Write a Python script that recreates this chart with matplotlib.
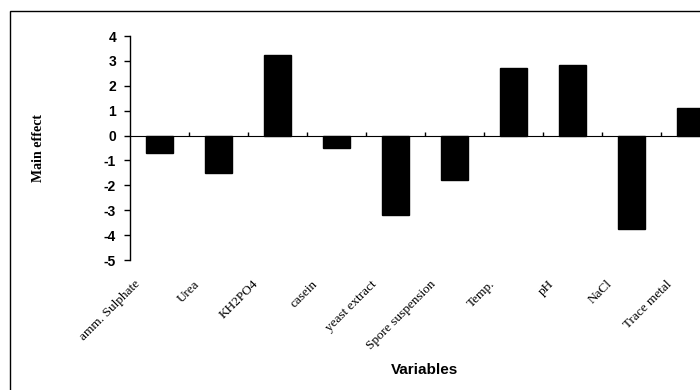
import numpy as np
import matplotlib.pyplot as plt
from matplotlib.patches import Rectangle
from matplotlib.transforms import ScaledTranslation

# main effect of each variable
variables = ["amm. Sulphate", "Urea", "KH2PO4", "casein", "yeast extract",
             "Spore suspension", "Temp.", "pH", "NaCl", "Trace metal"]
effects = [-0.72, -1.5, 3.25, -0.48, -3.2, -1.8, 2.73, 2.85, -3.75, 1.12]
yticks = [4, 3, 2, 1, 0, -1, -2, -3, -4, -5]

fig = plt.figure(figsize=(7, 3.9), dpi=100)
ax = fig.add_axes([130 / 700, 1 - 260 / 390, 570 / 700, 224 / 390])

x = np.arange(len(variables)) + 0.5
ax.bar(x, effects, width=0.45, color="black", edgecolor="black")

ax.set_xlim(0, 570 / 59)
ax.set_ylim(-5, 4)
ax.set_yticks(yticks)
ax.set_yticklabels([str(v) for v in yticks], fontfamily="Liberation Sans",
                   fontweight="bold", fontsize=10)
ax.tick_params(axis="y", direction="out", length=4, width=1, pad=6)

for side in ("top", "right", "bottom"):
    ax.spines[side].set_visible(False)
ax.spines["left"].set_linewidth(1)

# category labels below the plot, rotated
ax.set_xticks(x)
ax.set_xticklabels(variables, rotation=45, ha="right", va="top",
                   rotation_mode="anchor", fontfamily="Liberation Serif",
                   fontsize=9.5)
ax.tick_params(axis="x", length=0, pad=13)
offset = ScaledTranslation(-25 / 100, 0, fig.dpi_scale_trans)
for lbl in ax.get_xticklabels():
    lbl.set_transform(lbl.get_transform() + offset)

# zero line with boundary ticks
zero = ax.secondary_xaxis(5 / 9)
zero.set_xticks(np.arange(1, len(variables)))
zero.set_xticklabels([])
zero.tick_params(direction="out", length=3, width=1)
zero.spines["bottom"].set_linewidth(1)

ax.set_ylabel("Main effect", fontfamily="Liberation Serif", fontweight="bold",
              fontsize=10)
ax.yaxis.set_label_coords(-0.149, 0.5)

fig.text(425 / 700, 1 - 370 / 390, "Variables", ha="center", va="center",
         fontfamily="Liberation Sans", fontweight="bold", fontsize=11)

# outer frame of the chart area
fig.patches.append(Rectangle((10 / 700, -0.05), 1.0, 1 - 11 / 390 + 0.05,
                             transform=fig.transFigure, fill=False,
                             edgecolor="black", linewidth=1))

fig.savefig("out.png", dpi=100)
